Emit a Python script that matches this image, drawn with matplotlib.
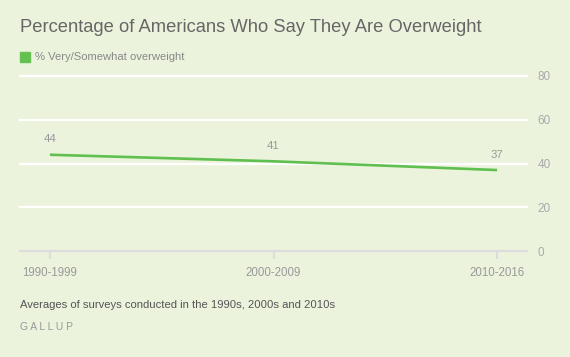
import matplotlib.pyplot as plt
import matplotlib.patches as mpatches

# data
periods = ["1990-1999", "2000-2009", "2010-2016"]
overweight = [44, 41, 37]
y_ticks = [0, 20, 40, 60, 80]

title = "Percentage of Americans Who Say They Are Overweight"
legend_label = "% Very/Somewhat overweight"
footnote = "Averages of surveys conducted in the 1990s, 2000s and 2010s"
source = "G A L L U P"

BG = "#ecf3dd"
GREEN = "#5fbf4f"
plt.rcParams["font.family"] = ["Liberation Sans", "DejaVu Sans"]

fig = plt.figure(figsize=(5.7, 3.57), dpi=100, facecolor=BG)
W, H = 570, 357

# axes placed in pixel terms: x 20..527, y 76 (80) .. 251 (0)
ax = fig.add_axes([20 / W, (H - 251) / H, 507 / W, 175 / H])
ax.set_facecolor(BG)
ax.patch.set_alpha(0)

x = list(range(len(periods)))
ax.set_xlim(-0.134, 2.134)
ax.set_ylim(0, 80)

# gridlines
for t in y_ticks:
    if t == 0:
        ax.axhline(t, color="#dcdcdc", lw=1.6, clip_on=False, zorder=1)
    else:
        ax.axhline(t, color="white", lw=1.6, clip_on=False, zorder=1)

ax.plot(x, overweight, color=GREEN, lw=1.9, solid_capstyle="butt", zorder=3)

for xi, v in zip(x, overweight):
    ax.annotate(str(v), (xi, v), xytext=(0, 11), textcoords="offset points",
                ha="center", va="center", fontsize=8.2, color="#999999")

for s in ax.spines.values():
    s.set_visible(False)

ax.set_xticks(x)
ax.set_xticklabels(periods)
ax.tick_params(axis="x", direction="out", length=5.5, width=1.5, color="#dcdcdc",
               labelsize=8.3, labelcolor="#999999", pad=6)

ax.yaxis.tick_right()
ax.set_yticks(y_ticks)
ax.set_yticklabels([str(t) for t in y_ticks])
ax.tick_params(axis="y", length=0, pad=7.5, labelsize=8.5, labelcolor="#aaaaaa")

# title & legend
fig.text(20 / W, 1 - 28 / H, title, fontsize=13.2, color="#666666", va="center", ha="left")
fig.patches.append(mpatches.Rectangle((20 / W, 1 - 62 / H), 10 / W, 10 / H,
                                      transform=fig.transFigure, color="#64c150"))
fig.text(35 / W, 1 - 57 / H, legend_label, fontsize=8.1, color="#888888", va="center", ha="left")

# footer
fig.text(20 / W, 1 - 305 / H, footnote, fontsize=8.1, color="#555555", va="center", ha="left")
fig.text(20 / W, 1 - 327 / H, source, fontsize=7.4, color="#999999", va="center", ha="left")

fig.savefig("out.png", dpi=100, facecolor=BG)
